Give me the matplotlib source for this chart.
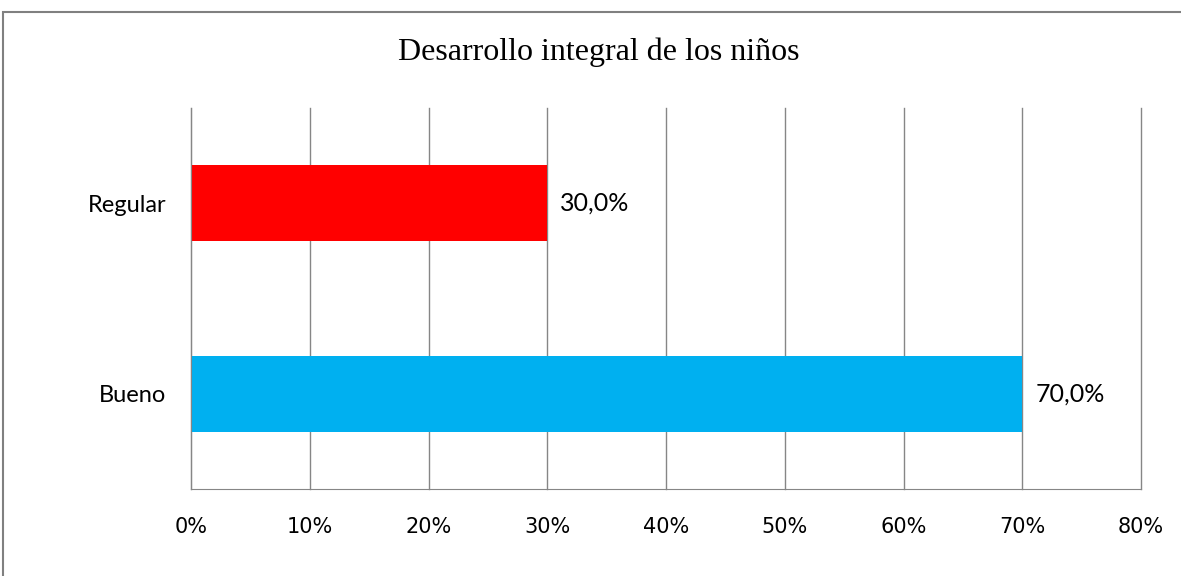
import matplotlib.pyplot as plt
from matplotlib.patches import Rectangle

# datos
categorias = ["Bueno", "Regular"]
porcentajes = [70.0, 30.0]
colores = ["#00B0F0", "#FF0000"]
ticks = [0, 10, 20, 30, 40, 50, 60, 70, 80]

fig = plt.figure(figsize=(11.81, 5.76), dpi=100)
ax = fig.add_axes([191 / 1181, 1 - 489 / 576, (1141 - 191) / 1181, (489 - 108) / 576])

# marco del grafico
fig.patches.append(Rectangle((3 / 1181, -0.1), 1.2, 1 - 12 / 576 + 0.1, transform=fig.transFigure,
                             fill=False, edgecolor="#808080", linewidth=1.5))

y = range(len(categorias))
ax.barh(y, porcentajes, height=0.4, color=colores, zorder=3)

ax.set_xlim(0, 80)
ax.set_ylim(-0.5, 1.5)
ax.set_xticks(ticks)
ax.set_xticklabels([f"{t}%" for t in ticks], family="Liberation Sans Narrow", fontsize=15)
ax.set_yticks(list(y))
ax.set_yticklabels(categorias, family="Lato", fontsize=17)
ax.tick_params(axis="both", length=0)
ax.tick_params(axis="x", pad=20)
ax.tick_params(axis="y", pad=18)

ax.grid(axis="x", color="#868686", linewidth=1, zorder=0)
for gl in ax.get_xgridlines():
    gl.set_clip_on(False)
for s in ["top", "right"]:
    ax.spines[s].set_visible(False)
ax.spines["left"].set_color("#868686")
ax.spines["bottom"].set_color("#868686")
ax.spines["left"].set_zorder(4)

for i, v in enumerate(porcentajes):
    ax.text(v + 1.1, i, f"{v:.1f}%".replace(".", ","), va="center", ha="left",
            family="Lato", fontsize=18)

fig.text(599 / 1181, 1 - 52 / 576, "Desarrollo integral de los niños", ha="center", va="center",
         family="Liberation Serif", fontsize=23)

fig.savefig("out.png", dpi=100)
